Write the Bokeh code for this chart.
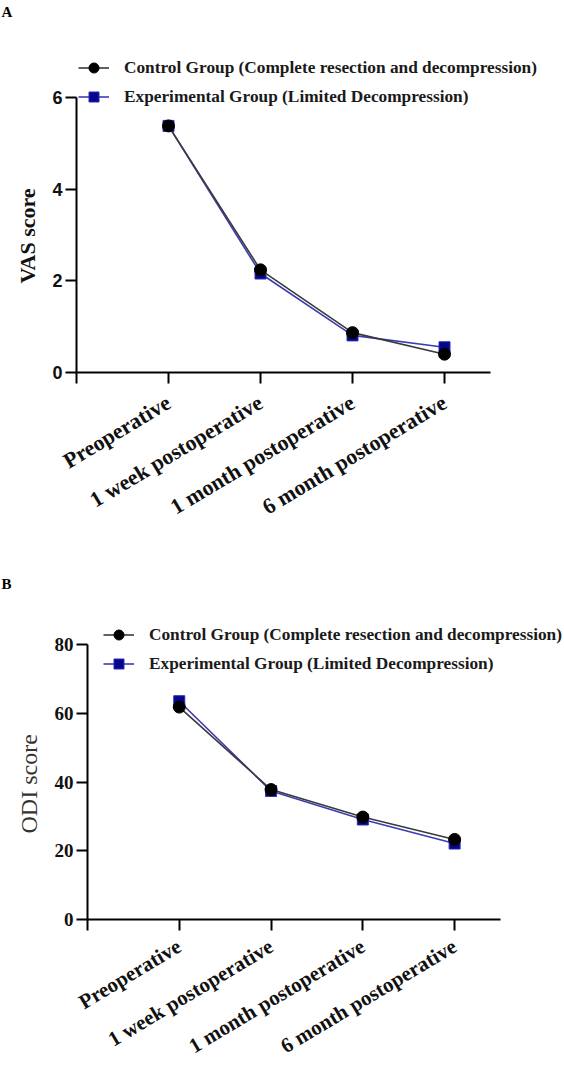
from bokeh.plotting import figure
from bokeh.models import Range1d, FixedTicker, Legend, LegendItem, Title
from bokeh.embed import file_html
from bokeh.resources import INLINE

# ---------------- data ----------------
categories = ["Preoperative", "1 week postoperative", "1 month postoperative", "6 month postoperative"]
x_pos = [0, 1, 2, 3]

vas_control = [5.38, 2.24, 0.87, 0.40]
vas_experimental = [5.38, 2.16, 0.81, 0.55]

odi_control = [61.8, 37.8, 29.8, 23.3]
odi_experimental = [63.5, 37.4, 29.1, 22.1]

vas_ticks = [0, 2, 4, 6]
odi_ticks = [0, 20, 40, 60, 80]

control_label = "Control Group (Complete resection and decompression)"
experimental_label = "Experimental Group (Limited Decompression)"

SERIF = "Liberation Serif"
SANS = "Liberation Sans"


def make_panel(height, border_left, border_top, border_bottom, axis_px_x, axis_px_y,
               y_ticks, ctrl, expe, ylabel, ylabel_style, ylabel_offset, ytick_font,
               ytick_size, xlabel_size, xlabel_standoff, legend_xy, panel_letter,
               letter_standoff):
    border_right = 0
    frame_w = 564 - border_left - border_right
    frame_h = height - border_top - border_bottom
    x_unit = axis_px_x / 4.5
    y_top = y_ticks[-1]
    y_unit = axis_px_y / y_top
    p = figure(width=564, height=height, output_backend="svg", toolbar_location=None,
               x_range=Range1d(-1, -1 + frame_w / x_unit),
               y_range=Range1d(0, frame_h / y_unit),
               min_border_left=border_left, min_border_right=border_right,
               min_border_top=border_top, min_border_bottom=border_bottom)
    p.outline_line_color = None
    p.grid.visible = False
    p.background_fill_color = "white"
    p.border_fill_color = "white"
    p.title.visible = False

    # experimental first, control on top
    r1 = p.line(x_pos, expe, line_color="#3c3cb4", line_width=1.6)
    r2 = p.scatter(x_pos, expe, marker="square", size=11, fill_color="#06068c",
                   line_color="#2a2ab0", line_width=1)
    r3 = p.line(x_pos, ctrl, line_color="#3a3a3a", line_width=1.6)
    r4 = p.scatter(x_pos, ctrl, marker="circle", size=12, fill_color="black",
                   line_color="black", line_width=1)

    # axes
    xa = p.xaxis[0]
    xa.bounds = (-1, 3.5)
    xa.ticker = FixedTicker(ticks=[-1] + x_pos)
    overrides = {-1: ""}
    for i, c in zip(x_pos, categories):
        overrides[i] = c
    xa.major_label_overrides = overrides
    xa.major_label_orientation = 0.54
    xa.major_label_text_font = SERIF
    xa.major_label_text_font_style = "bold"
    xa.major_label_text_font_size = xlabel_size
    xa.major_label_text_color = "#111111"
    xa.major_label_standoff = xlabel_standoff
    xa.axis_line_width = 2
    xa.major_tick_line_width = 2
    xa.major_tick_out = 11
    xa.major_tick_in = 0
    xa.minor_tick_out = 0
    xa.minor_tick_in = 0

    ya = p.yaxis[0]
    ya.bounds = (0, y_top)
    ya.ticker = FixedTicker(ticks=y_ticks)
    ya.major_label_text_font = ytick_font
    ya.major_label_text_font_style = "bold"
    ya.major_label_text_font_size = ytick_size
    ya.major_label_text_color = "#111111"
    ya.major_label_standoff = 3
    ya.axis_line_width = 2
    ya.major_tick_line_width = 2
    ya.major_tick_out = 11
    ya.major_tick_in = 0
    ya.minor_tick_out = 0
    ya.minor_tick_in = 0

    # y-axis title (positioned along the bounded axis)
    p.add_layout(Title(text=ylabel, align="left", offset=ylabel_offset, standoff=20,
                       text_font=SERIF, text_font_style=ylabel_style[0],
                       text_font_size=ylabel_style[1], text_color=ylabel_style[2]), "left")

    # panel letter
    p.add_layout(Title(text=panel_letter, align="left", offset=-border_left + 1,
                       standoff=letter_standoff, text_font=SERIF, text_font_style="bold",
                       text_font_size="15px", text_color="black"), "above")

    legend = Legend(items=[LegendItem(label=control_label, renderers=[r3, r4]),
                           LegendItem(label=experimental_label, renderers=[r1, r2])],
                    location=legend_xy, orientation="vertical",
                    padding=0, margin=0, spacing=4,
                    glyph_width=31, glyph_height=25, label_height=25,
                    label_standoff=15,
                    label_text_font=SERIF, label_text_font_style="bold",
                    label_text_font_size="17.3px", label_text_color="#1a1a1a",
                    border_line_alpha=0, background_fill_alpha=0)
    p.add_layout(legend, "center")
    return p


pA = make_panel(560, 76, 20, 188, 414, 275, vas_ticks, vas_control, vas_experimental,
                "VAS score", ("bold", "22px", "#111111"), 89, SANS, "18px", "22px", 17,
                (2, 263), "A", 2)
pB = make_panel(512, 87, 33, 153, 413, 275, odi_ticks, odi_control, odi_experimental,
                "ODI score", ("normal", "24px", "#333333"), 86, SERIF, "19px", "21px", 14,
                (16, 243), "B", 4)

open("out.html", "w").write(file_html([pA, pB], INLINE))
